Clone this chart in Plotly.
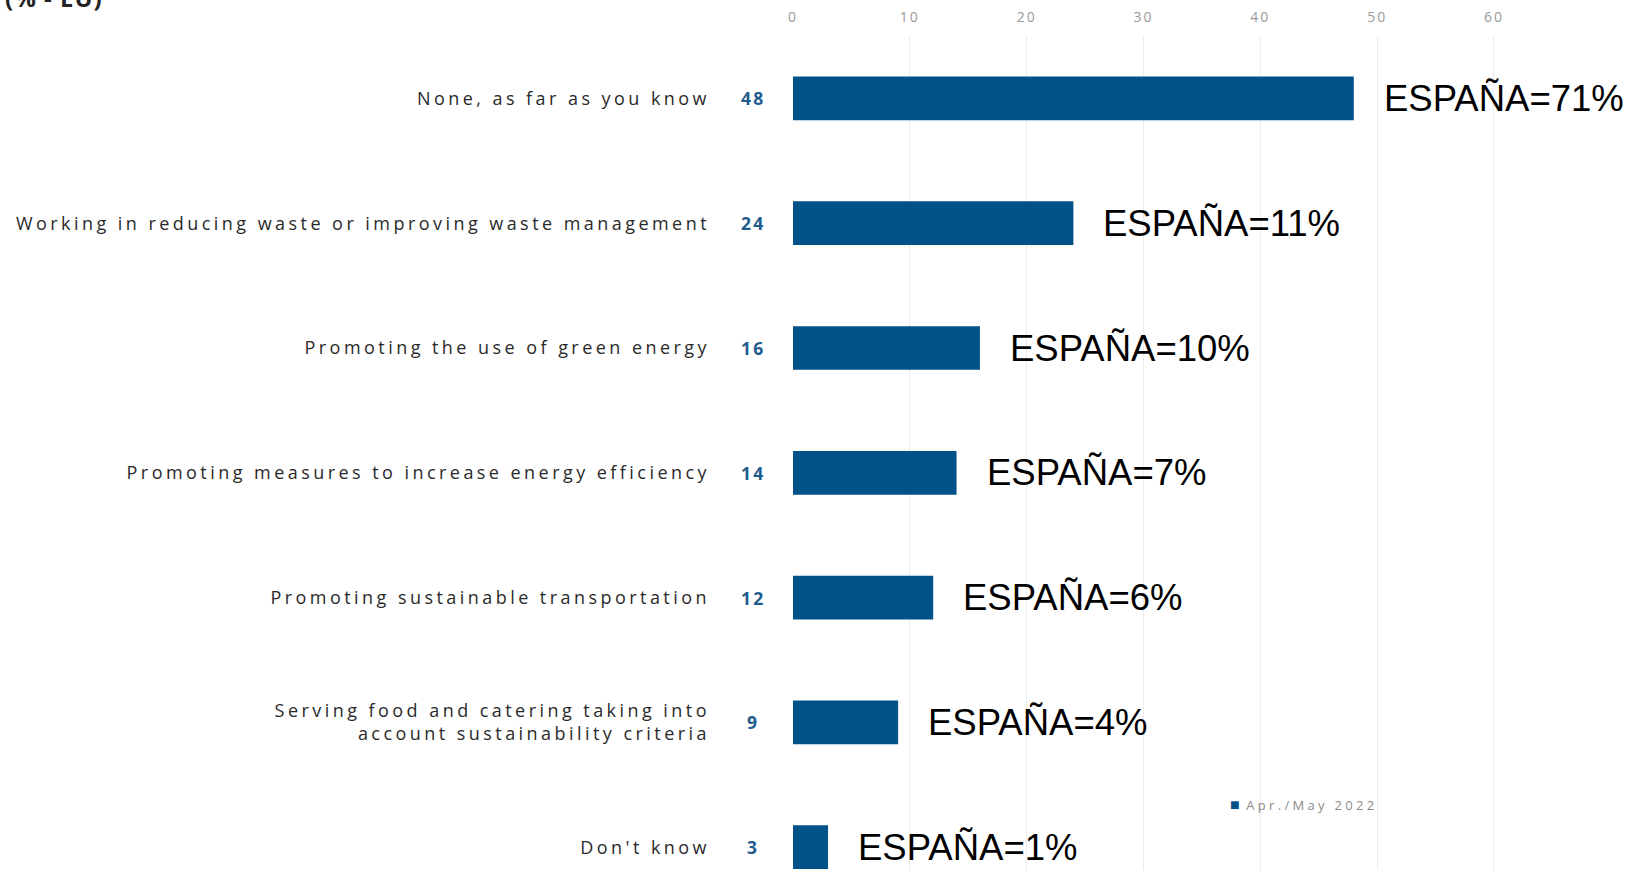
import plotly.graph_objects as go

categories = [
    "None, as far as you know",
    "Working in reducing waste or improving waste management",
    "Promoting the use of green energy",
    "Promoting measures to increase energy efficiency",
    "Promoting sustainable transportation",
    "Serving food and catering taking into<br>account sustainability criteria",
    "Don't know",
]
eu_values = [48, 24, 16, 14, 12, 9, 3]
spain_values = [71, 11, 10, 7, 6, 4, 1]
x_ticks = [0, 10, 20, 30, 40, 50, 60]
series_name = "Apr./May 2022"
title_text = "(% - EU)"

BAR = "#02528A"
W, H = 1626, 870
x_max = 60.6
unit_px = 11.683
left = 793
right_px = left + x_max * unit_px
top_px, bottom_px = 36, 870
plot_w = right_px - left
plot_h = bottom_px - top_px


def spaced(t, ls):
    return "<br>".join(f"<span style='letter-spacing:{ls}px'>{p}</span>" for p in t.split("<br>"))


fig = go.Figure()
fig.add_trace(go.Bar(
    x=eu_values, y=categories, orientation="h",
    marker=dict(color=BAR, line=dict(width=0)),
    width=0.35, name=series_name, showlegend=False, cliponaxis=False,
))

annotations = []
for cat, v, s in zip(categories, eu_values, spain_values):
    annotations.append(dict(
        x=0, y=cat, xref="x", yref="y", text=spaced(f"<b>{v}</b>", 2.2),
        xanchor="center", yanchor="middle", xshift=-40, showarrow=False,
        font=dict(family="Open Sans", size=17.5, color="#1F5C8E"),
    ))
    annotations.append(dict(
        x=v, y=cat, xref="x", yref="y", text=f"ESPAÑA={s}%",
        xanchor="left", yanchor="middle", xshift=28, showarrow=False,
        font=dict(family="Liberation Sans", size=36.5, color="#000000"),
    ))

annotations.append(dict(
    x=(3 - left) / plot_w, y=1 + (top_px + 3) / plot_h,
    xref="paper", yref="paper", text=spaced(f"<b>{title_text}</b>", 1),
    xanchor="left", yanchor="middle", showarrow=False,
    font=dict(family="Open Sans", size=24, color="#222222"),
))
annotations.append(dict(
    x=(1228 - left) / plot_w, y=(bottom_px - 804) / plot_h,
    xref="paper", yref="paper",
    text=f"<span style='color:{BAR};font-size:16px'>■</span>" + spaced(" " + series_name, 3.3),
    xanchor="left", yanchor="middle", showarrow=False,
    font=dict(family="Open Sans", size=13, color="#8a8a8a"),
))

band = 124.8
fig.update_layout(
    width=W, height=H,
    margin=dict(l=left, r=W - right_px, t=top_px, b=H - bottom_px, pad=0),
    paper_bgcolor="white", plot_bgcolor="white",
    xaxis=dict(
        side="top", range=[0, x_max], tickvals=x_ticks,
        ticktext=[spaced(str(t), 2) for t in x_ticks], showgrid=True,
        gridcolor="#ececec", gridwidth=1, zeroline=False, showline=False,
        tickfont=dict(family="Open Sans", size=14, color="#9a9a9a"),
        ticks="", ticklabelstandoff=10,
    ),
    yaxis=dict(
        categoryorder="array", categoryarray=categories,
        tickvals=categories, ticktext=[spaced(c, 3.45) for c in categories],
        range=[-0.5 + plot_h / band, -0.5],
        showgrid=False, zeroline=False, showline=False, ticks="",
        tickfont=dict(family="Open Sans", size=18, color="#2a2a2a"),
        ticklabelstandoff=82,
    ),
    annotations=annotations,
    font=dict(family="Open Sans"),
)

fig.write_html(
    "out.html",
    config={"displayModeBar": False},
    post_script="document.body.style.margin='0';",
)
